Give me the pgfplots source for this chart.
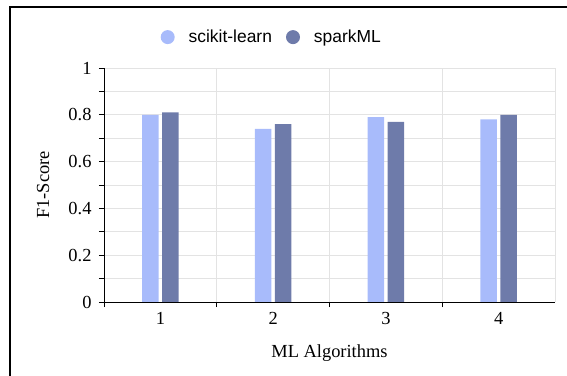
\documentclass[border=0pt]{standalone}
\usepackage{fontspec}
\setmainfont{Liberation Serif}
\newfontfamily\arial{Liberation Sans}
\usepackage{pgfplots}
\pgfplotsset{compat=1.18}
\definecolor{sk}{HTML}{A8BBFB}
\definecolor{sp}{HTML}{6E7BAA}
\definecolor{gridc}{HTML}{E3E3E3}
\newcommand{\bigf}{\fontsize{18.5}{22}\selectfont}
\begin{document}
\begin{tikzpicture}
\useasboundingbox (0,0) rectangle (567bp,376bp);
\draw[line width=1.4bp] (10bp,0) -- (10bp,369bp) -- (567bp,369bp);
\begin{axis}[
  at={(104bp,74bp)}, anchor=south west,
  scale only axis, width=451bp, height=234bp,
  ybar=3.4bp, bar width=16.6bp,
  xmin=0.5, xmax=4.5, ymin=0, ymax=1,
  axis x line*=bottom, axis y line*=left,
  axis line style={black, line width=0.8bp, -},
  xtick={1,2,3,4},
  xticklabels={1,2,3,4},
  major x tick style={draw=none},
  minor xtick={0.5,1.5,2.5,3.5},
  minor x tick style={black, line width=0.6bp},
  extra x ticks={4.5}, extra x tick labels={},
  extra x tick style={grid=major, major tick length=0pt, major grid style={gridc, line width=0.8bp}},
  xminorgrids=true,
  ytick={0,0.2,0.4,0.6,0.8,1},
  minor ytick={0.1,0.3,0.5,0.7,0.9},
  ymajorgrids=true, yminorgrids=true,
  grid style={gridc, line width=0.8bp},
  minor grid style={gridc, line width=0.8bp},
  tick style={black, line width=0.6bp},
  tick align=outside,
  major tick length=5bp, minor tick length=5bp,
  /pgf/number format/assume math mode=true,
  xticklabel style={font=\bigf, yshift=-2bp},
  yticklabel style={font=\bigf, xshift=-4bp},
  xlabel={\bigf ML Algorithms},
  ylabel={\bigf F1-Score},
  xlabel style={font=\bigf, at={(axis description cs:0.5,-0.218)}, anchor=center},
  ylabel style={font=\bigf, at={(axis description cs:-0.135,0.5)}, anchor=center, rotate=0},
  legend style={at={(axis description cs:0.372,1.132)}, anchor=center, draw=none, fill=none,
     font=\arial\fontsize{17.5}{20}\selectfont, column sep=12bp},
  legend columns=2,
  legend image code/.code={\fill[#1] (0.33cm,0) circle (7bp);},
  enlarge x limits=false,
]
\addplot[fill=sk, draw=none] coordinates {(1,0.80) (2,0.74) (3,0.79) (4,0.78)};
\addplot[fill=sp, draw=none] coordinates {(1,0.81) (2,0.76) (3,0.77) (4,0.80)};
\legend{scikit-learn, sparkML}
\end{axis}
\end{tikzpicture}
\end{document}
